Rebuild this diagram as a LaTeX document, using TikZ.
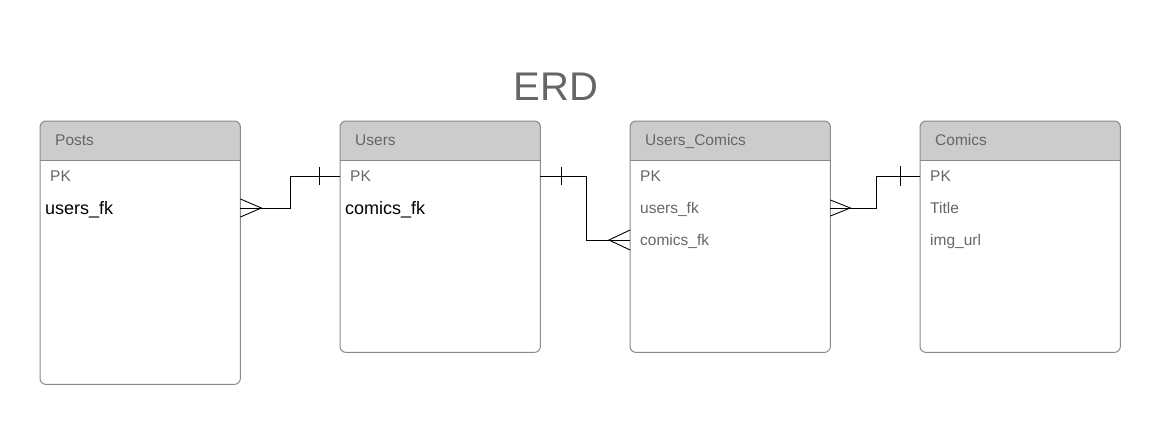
\documentclass[tikz,border=0pt]{standalone}
\usepackage{fontspec}
\setmainfont{Liberation Sans}
\usetikzlibrary{positioning,calc}

\definecolor{hdrgray}{HTML}{CCCCCC}
\definecolor{linegray}{HTML}{8A8A8A}
\definecolor{txtgray}{HTML}{666666}

\tikzset{
  tblbox/.style={minimum width=200pt, inner sep=0pt, anchor=north west},
  boxline/.style={draw=linegray, line width=1pt},
  hdrtext/.style={anchor=west, inner sep=0pt, text=txtgray, font=\fontsize{15.5}{18}\selectfont, text height=11pt, text depth=0pt},
  fld/.style={anchor=west, inner sep=0pt, text=txtgray, font=\fontsize{15.5}{18}\selectfont, text height=11pt, text depth=0pt},
  fldbig/.style={anchor=west, inner sep=0pt, text=black, font=\fontsize{18}{21}\selectfont, text height=13pt, text depth=0pt},
  rel/.style={draw=black, line width=0.9pt},
}

\begin{document}
\begin{tikzpicture}[x=1pt, y=-1pt]
			\useasboundingbox (0,0) rectangle (1171,439);
			
			% Title
			\node[text=txtgray, font=\fontsize{40}{46}\selectfont] (erd) at (556,87) {ERD};
			
			% Tables with grey header
			\foreach \nm/\x/\h/\ttl in {posts/40/263/Posts, users/340/231/Users, uc/630/231/{Users\_Comics}, comics/920/231/Comics}{
				\node[tblbox, minimum height=\h pt] (\nm) at (\x,121) {};
				\begin{scope}
					\clip[rounded corners=6pt] (\nm.south west) rectangle (\nm.north east);
					\fill[hdrgray] (\nm.north west) rectangle ([yshift=-39pt]\nm.north east);
				\end{scope}
				\draw[boxline] ([yshift=-39pt]\nm.north west) -- ([yshift=-39pt]\nm.north east);
				\draw[boxline, rounded corners=6pt] (\nm.south west) rectangle (\nm.north east);
				\node[hdrtext] (\nm-title) at ([xshift=15pt,yshift=-19pt]\nm.north west) {\ttl};
			}
			
			% Fields
			\node[fld] (posts-pk) at (50,176) {PK};
			\node[fldbig] (posts-fk) at (45,208) {users\_fk};
			\node[fld] (users-pk) at (350,176) {PK};
			\node[fldbig] (users-fk) at (345,208) {comics\_fk};
			\node[fld] (uc-pk) at (640,176) {PK};
			\node[fld] (uc-ufk) at (640,208) {users\_fk};
			\node[fld] (uc-cfk) at (640,240) {comics\_fk};
			\node[fld] (comics-pk) at (930,176) {PK};
			\node[fld] (comics-title) at (930,208) {Title};
			\node[fld] (comics-img) at (930,240) {img\_url};
			
			% Posts -- Users (many to one)
			\coordinate (pu-a) at (posts.east |- posts-fk);
			\coordinate (pu-b) at (users.west |- users-pk);
			\draw[rel] (pu-a) -- ++(50,0) |- (pu-b);
			\draw[rel] ($(pu-a)+(0,-9)$) -- ++(21,9) -- ++(-21,9);
			\draw[rel] ($(pu-b)+(-21,-9)$) -- ++(0,18);
			
			% Users -- Users_Comics (one to many)
			\coordinate (uu-a) at (users.east |- users-pk);
			\coordinate (uu-b) at (uc.west |- uc-cfk);
			\draw[rel] (uu-a) -- ++(46,0) |- (uu-b);
			\draw[rel] ($(uu-a)+(21,-9)$) -- ++(0,18);
			\draw[rel] ($(uu-b)+(0,-10)$) -- ++(-21,10) -- ++(21,10);
			
			% Users_Comics -- Comics (many to one)
			\coordinate (uk-a) at (uc.east |- uc-ufk);
			\coordinate (uk-b) at (comics.west |- comics-pk);
			\draw[rel] (uk-a) -- ++(46,0) |- (uk-b);
			\draw[rel] ($(uk-a)+(0,-8)$) -- ++(20,8) -- ++(-20,8);
			\draw[rel] ($(uk-b)+(-20,-10)$) -- ++(0,20);
		\end{tikzpicture}
\end{document}
